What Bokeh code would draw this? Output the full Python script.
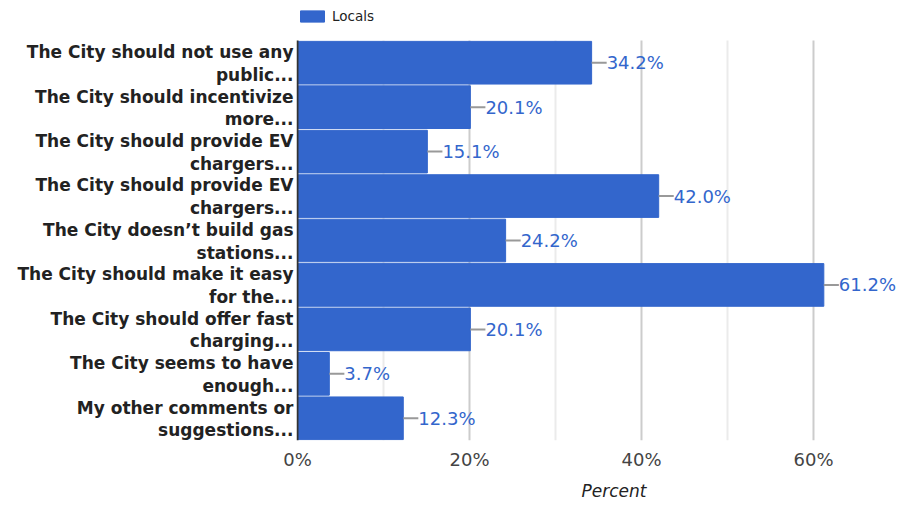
from bokeh.plotting import figure
from bokeh.models import ColumnDataSource, Range1d, FixedTicker, Legend, LegendItem, Title
from bokeh.embed import file_html
from bokeh.resources import INLINE
from bokeh.core.properties import value

cat_line1 = [
    "The City should not use any",
    "The City should incentivize",
    "The City should provide EV",
    "The City should provide EV",
    "The City doesn\u2019t build gas",
    "The City should make it easy",
    "The City should offer fast",
    "The City seems to have",
    "My other comments or",
]
cat_line2 = [
    "public...",
    "more...",
    "chargers...",
    "chargers...",
    "stations...",
    "for the...",
    "charging...",
    "enough...",
    "suggestions...",
]
values = [34.2, 20.1, 15.1, 42.0, 24.2, 61.2, 20.1, 3.7, 12.3]
series_name = "Locals"
x_ticks = [0, 20, 40, 60]
x_tick_labels = ["0%", "20%", "40%", "60%"]
x_minor = [10, 30, 50]
x_title = "Percent"

n = len(values)
BAND = 100                       # y units per category band
ycent = [BAND * (n - 1 - i) + BAND // 2 for i in range(n)]
y_bottom, y_top = 0, BAND * n
labels = [f"{v:.1f}%" for v in values]
src = ColumnDataSource(dict(y=ycent, val=values, lab=labels,
                            lx=[v + 1.75 for v in values]))

p = figure(width=899, height=506, output_backend="svg", toolbar_location=None,
           y_range=Range1d(y_bottom, y_top + 90), x_range=Range1d(-0.116, 70.0),
           min_border_left=296, min_border_right=0, min_border_top=0, min_border_bottom=66)
p.outline_line_color = None
p.xgrid.grid_line_color = None
p.ygrid.grid_line_color = None

# grid lines limited to the bar area
p.segment(x0=x_minor, x1=x_minor, y0=[y_bottom] * len(x_minor), y1=[y_top] * len(x_minor),
          line_color="#ebebeb", line_width=2)
p.segment(x0=x_ticks[1:], x1=x_ticks[1:], y0=[y_bottom] * 3, y1=[y_top] * 3,
          line_color="#cccccc", line_width=2)

r = p.hbar(y="y", right="val", left=0, height=BAND * 0.96, source=src, color="#3366cc")
p.segment(x0="val", x1="lx", y0="y", y1="y", source=src, line_color="#999999", line_width=2)
p.text(x="lx", y="y", text="lab", source=src, text_font=value("DejaVu Sans"),
       text_font_size="18px", text_color="#3366cc", text_baseline="middle")

# y axis line
p.segment(x0=[0], x1=[0], y0=[y_bottom], y1=[y_top], line_color="#333333", line_width=2)

# x axis
p.xaxis.ticker = FixedTicker(ticks=x_ticks, minor_ticks=x_minor)
p.xaxis.major_label_overrides = dict(zip(x_ticks, x_tick_labels))
p.xaxis.axis_line_color = None
p.xaxis.major_tick_line_color = None
p.xaxis.minor_tick_line_color = None
p.xaxis.major_label_text_font = "DejaVu Sans"
p.xaxis.major_label_text_font_size = "18px"
p.xaxis.major_label_text_color = "#444444"
p.xaxis.major_label_standoff = 2

p.add_layout(Title(text=x_title, align="left", offset=285, standoff=12,
                   text_font="DejaVu Sans", text_font_size="17px",
                   text_font_style="italic", text_color="#222222"), "below")

# y axis: two tick labels per category (first and second line)
yticks, yover = [], {}
for yc, t1, t2 in zip(ycent, cat_line1, cat_line2):
    a, b = yc + 24, yc - 27
    yticks += [a, b]
    yover[a] = t1
    yover[b] = t2
p.yaxis.ticker = FixedTicker(ticks=sorted(yticks))
p.yaxis.major_label_overrides = yover
p.yaxis.axis_line_color = None
p.yaxis.major_tick_line_color = None
p.yaxis.minor_tick_line_color = None
p.yaxis.major_label_text_font = "DejaVu Sans"
p.yaxis.major_label_text_font_size = "17px"
p.yaxis.major_label_text_font_style = "bold"
p.yaxis.major_label_text_color = "#222222"
p.yaxis.major_label_standoff = -3

legend = Legend(items=[LegendItem(label=series_name, renderers=[r])],
                orientation="horizontal", location=(1, 416),
                label_text_font="DejaVu Sans", label_text_font_size="13.5px",
                label_text_color="#222222", glyph_width=30, glyph_height=14,
                border_line_color=None, background_fill_alpha=0,
                padding=0, margin=0, label_standoff=5)
p.add_layout(legend)

open("out.html", "w").write(file_html(p, INLINE))
